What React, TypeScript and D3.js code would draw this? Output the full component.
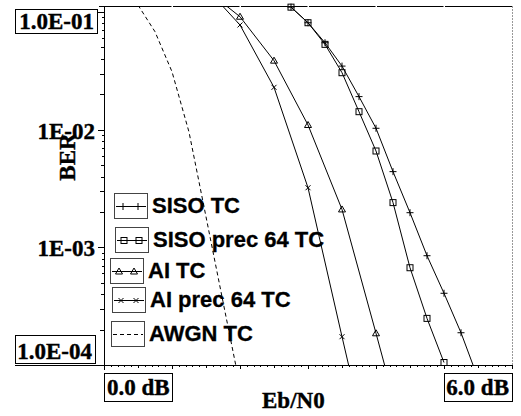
import React, { useEffect, useRef } from 'react';
import * as d3 from 'd3';

const W = 521;
const H = 416;
const PLOT = { left: 104, right: 512, top: 6, bottom: 365 };

const X_DOMAIN: [number, number] = [0, 6];
const Y_DOMAIN: [number, number] = [1e-4, 0.1125];

// Eb/N0 (dB) and BER values
const SISO_TC_EBN0 = [2.75, 3.0, 3.25, 3.5, 3.75, 4.0, 4.25, 4.5, 4.75, 5.0, 5.25, 5.5];
const SISO_TC_BER = [0.11, 0.0811, 0.0548, 0.0347, 0.0191, 0.01028, 0.0044, 0.00197, 8.49e-4, 4.07e-4, 1.88e-4, 7.7e-5];

const SISO_PREC_EBN0 = [2.75, 3.0, 3.25, 3.5, 3.75, 4.0, 4.25, 4.5, 4.75, 5.0];
const SISO_PREC_BER = [0.11, 0.0811, 0.0531, 0.0305, 0.01422, 0.00659, 0.0024, 6.71e-4, 2.49e-4, 1.05e-4];

const AI_TC_EBN0 = [1.5, 2.0, 2.5, 3.0, 3.5, 4.0, 4.5];
const AI_TC_BER = [0.155, 0.0912, 0.0386, 0.01096, 0.0021, 1.86e-4, 1.6e-5];

const AI_PREC_EBN0 = [1.5, 2.0, 2.5, 3.0, 3.5, 4.0];
const AI_PREC_BER = [0.16, 0.0776, 0.0229, 0.00321, 1.74e-4, 1.0e-5];

const AWGN_EBN0 = [0.5, 0.75, 1.0, 1.25, 1.5, 1.75, 2.0];
const AWGN_BER = [0.1146, 0.068, 0.0311, 0.00955, 0.00182, 3.45e-4, 6.6e-5];

const SERIES_NAMES = ['SISO TC', 'SISO prec 64 TC', 'AI TC', 'AI prec 64 TC', 'AWGN TC'];
const SERIES_MARKERS = ['plus', 'square', 'triangle', 'cross', 'none'];

// legend box layout (top-left corners)
const LEGEND_BOX_X = [114, 115, 110, 112, 111];
const LEGEND_BOX_Y = [193, 227, 258, 287, 321];

const SERIF = "'Liberation Serif', 'Times New Roman', serif";
const SANS = "'Liberation Sans', Arial, sans-serif";

function drawMarker(g: any, type: string, x: number, y: number) {
  if (type === 'plus') {
    g.append('path').attr('d', `M${x - 3.5},${y}H${x + 3.5}M${x},${y - 3.5}V${y + 3.5}`)
      .attr('stroke', '#000').attr('stroke-width', 1).attr('fill', 'none');
  } else if (type === 'square') {
    g.append('rect').attr('x', x - 3).attr('y', y - 3).attr('width', 6).attr('height', 6)
      .attr('stroke', '#000').attr('stroke-width', 1).attr('fill', 'none');
  } else if (type === 'triangle') {
    g.append('path').attr('d', `M${x},${y - 3.5}L${x + 3.5},${y + 2.5}L${x - 3.5},${y + 2.5}Z`)
      .attr('stroke', '#000').attr('stroke-width', 1).attr('fill', 'none');
  } else if (type === 'cross') {
    g.append('path').attr('d', `M${x - 2.5},${y - 2.5}L${x + 2.5},${y + 2.5}M${x + 2.5},${y - 2.5}L${x - 2.5},${y + 2.5}`)
      .attr('stroke', '#000').attr('stroke-width', 1).attr('fill', 'none');
  }
}

export default function App() {
  const ref = useRef<SVGSVGElement>(null);

  useEffect(() => {
    const svg = d3.select(ref.current);
    svg.selectAll('*').remove();

    const x = d3.scaleLinear().domain(X_DOMAIN).range([PLOT.left, PLOT.right]);
    const y = d3.scaleLog().domain(Y_DOMAIN).range([PLOT.bottom, PLOT.top]);

    svg.append('rect').attr('width', W).attr('height', H).attr('fill', '#fff');

    svg.append('defs').append('clipPath').attr('id', 'plotclip')
      .append('rect').attr('x', PLOT.left).attr('y', PLOT.top)
      .attr('width', PLOT.right - PLOT.left).attr('height', PLOT.bottom - PLOT.top);

    const series = [
      { xs: SISO_TC_EBN0, ys: SISO_TC_BER },
      { xs: SISO_PREC_EBN0, ys: SISO_PREC_BER },
      { xs: AI_TC_EBN0, ys: AI_TC_BER },
      { xs: AI_PREC_EBN0, ys: AI_PREC_BER },
      { xs: AWGN_EBN0, ys: AWGN_BER },
    ].map((s, i) => ({
      name: SERIES_NAMES[i],
      marker: SERIES_MARKERS[i],
      pts: s.xs.map((v, j) => [v, s.ys[j]] as [number, number]),
    }));

    // right border (dashed gray)
    svg.append('line').attr('x1', PLOT.right + 0.5).attr('x2', PLOT.right + 0.5)
      .attr('y1', PLOT.top).attr('y2', PLOT.bottom)
      .attr('stroke', '#999').attr('stroke-width', 1).attr('stroke-dasharray', '2,1');

    // top border with white gaps at integer dB
    svg.append('line').attr('x1', PLOT.left).attr('x2', PLOT.right)
      .attr('y1', PLOT.top + 0.5).attr('y2', PLOT.top + 0.5)
      .attr('stroke', '#000').attr('stroke-width', 1);
    d3.range(1, 6).forEach((d) => {
      svg.append('rect').attr('x', Math.round(x(d)) - 0.5).attr('y', PLOT.top - 1)
        .attr('width', 1.5).attr('height', 3).attr('fill', '#fff');
    });

    // curves
    const line = d3.line<[number, number]>().x((d) => x(d[0])).y((d) => y(d[1]));
    const cg = svg.append('g').attr('clip-path', 'url(#plotclip)');
    series.forEach((s) => {
      cg.append('path').attr('d', line(s.pts) as string)
        .attr('fill', 'none').attr('stroke', '#000').attr('stroke-width', 1)
        .attr('stroke-dasharray', s.marker === 'none' ? '4,3' : null);
    });
    const mg = svg.append('g');
    series.forEach((s) => {
      s.pts.forEach(([a, b]) => {
        if (b >= Y_DOMAIN[0] * 0.98 && b <= Y_DOMAIN[1] * 1.02) drawMarker(mg, s.marker, x(a), y(b));
      });
    });

    // axes lines
    svg.append('line').attr('x1', PLOT.left + 0.5).attr('x2', PLOT.left + 0.5)
      .attr('y1', PLOT.top).attr('y2', PLOT.bottom + 5).attr('stroke', '#000');
    svg.append('line').attr('x1', 15).attr('x2', PLOT.right)
      .attr('y1', PLOT.bottom + 0.5).attr('y2', PLOT.bottom + 0.5).attr('stroke', '#000');
    svg.append('line').attr('x1', PLOT.left - 5).attr('x2', PLOT.left)
      .attr('y1', PLOT.top + 0.5).attr('y2', PLOT.top + 0.5).attr('stroke', '#000');

    // y ticks
    const yt = svg.append('g');
    [-4, -3, -2, -1].forEach((e) => {
      for (let m = 1; m <= 9; m++) {
        const v = m * Math.pow(10, e);
        if (v < Y_DOMAIN[0] || v > Y_DOMAIN[1]) continue;
        const len = m === 1 ? 6 : m <= 3 ? 4 : m <= 5 ? 3 : 2;
        const yy = Math.round(y(v)) + 0.5;
        yt.append('line').attr('x1', PLOT.left - len).attr('x2', PLOT.left)
          .attr('y1', yy).attr('y2', yy).attr('stroke', '#000').attr('stroke-width', 1);
      }
    });

    // x ticks
    const xt = svg.append('g');
    d3.range(0, 61).forEach((i) => {
      const v = i / 10;
      const len = i % 10 === 0 ? 4 : i % 5 === 0 ? 3 : 2;
      const xx = Math.round(x(v)) + 0.5;
      xt.append('line').attr('x1', xx).attr('x2', xx)
        .attr('y1', PLOT.bottom).attr('y2', PLOT.bottom + len).attr('stroke', '#000');
    });

    const serifText = (sel: any) => sel
      .attr('font-family', SERIF).attr('font-weight', 'bold').attr('font-size', 23)
      .attr('stroke', '#000').attr('stroke-width', 0.4);

    // boxed labels
    const boxed = (txt: string, tx: number, baseline: number, anchor: string, bx: number, by: number, bw: number, bh: number) => {
      svg.append('rect').attr('x', bx + 0.5).attr('y', by + 0.5).attr('width', bw).attr('height', bh)
        .attr('fill', '#fff').attr('stroke', '#000').attr('stroke-width', 1);
      svg.append('text').attr('x', tx).attr('y', baseline).attr('text-anchor', anchor)
        .call(serifText).text(txt);
    };
    boxed('1.0E-01', 94, 29, 'end', 15, 9, 82, 24);
    boxed('1.0E-04', 92, 359, 'end', 15, 335, 80, 28);
    boxed('0.0 dB', 107, 395, 'start', 104, 373, 68, 28);
    boxed('6.0 dB', 509, 395, 'end', 444, 373, 68, 28);

    // plain y labels
    [1e-2, 1e-3].forEach((v, i) => {
      svg.append('text').attr('x', 95).attr('y', y(v) + 9).attr('text-anchor', 'end')
        .call(serifText).text(i === 0 ? '1E-02' : '1E-03');
    });

    // axis titles
    svg.append('text').attr('x', 262).attr('y', 408).call(serifText).text('Eb/N0');
    svg.append('text').attr('transform', `translate(75,157) rotate(-90)`).attr('text-anchor', 'middle')
      .call(serifText).text('BER');

    // legend
    const lg = svg.append('g');
    series.forEach((s, i) => {
      const bx = LEGEND_BOX_X[i];
      const by = LEGEND_BOX_Y[i];
      const bw = 33;
      const bh = 25;
      lg.append('rect').attr('x', bx + 0.5).attr('y', by + 0.5).attr('width', bw).attr('height', bh)
        .attr('fill', 'none').attr('stroke', '#444').attr('stroke-width', 1);
      const my = by + Math.round(bh / 2) + 0.5;
      lg.append('line').attr('x1', bx + 2).attr('x2', bx + bw - 1).attr('y1', my).attr('y2', my)
        .attr('stroke', '#000').attr('stroke-width', 1)
        .attr('stroke-dasharray', s.marker === 'none' ? '4,3' : null);
      drawMarker(lg, s.marker, bx + 9, my);
      drawMarker(lg, s.marker, bx + 24, my);
      lg.append('text').attr('x', bx + bw + 5).attr('y', by + 20)
        .attr('font-family', SANS).attr('font-weight', 'bold').attr('font-size', 22)
        .attr('stroke', '#000').attr('stroke-width', 0.3).text(s.name);
    });
  }, []);

  return (
    <svg
      ref={ref}
      width={W}
      height={H}
      style={{ position: 'absolute', left: 0, top: 0, display: 'block' }}
    />
  );
}
